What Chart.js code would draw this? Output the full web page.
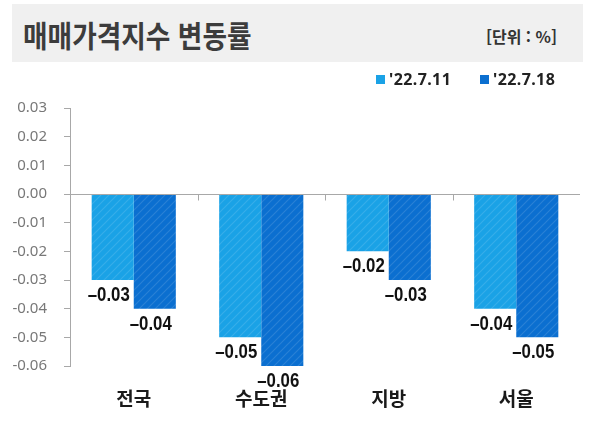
<!DOCTYPE html>
<html lang="ko">
<head>
<meta charset="utf-8">
<script src="https://cdn.jsdelivr.net/npm/chart.js@4.4.1/dist/chart.umd.min.js"></script>
<style>
  html, body { margin: 0; padding: 0; background: #fff; }
  #wrap { position: relative; width: 600px; height: 433px; overflow: hidden; }
  #chart-box { position: absolute; left: 0; top: 0; width: 600px; height: 433px; }
  .title-box {
    position: absolute; left: 12px; top: 4px; width: 571px; height: 58px;
    background: #f0f0f0;
  }
  .title {
    position: absolute; left: 23px; top: 12px;
    font: bold 30px "Noto Sans CJK KR", sans-serif; color: #3c3c3c;
    transform: scaleX(0.89); transform-origin: left center; white-space: nowrap;
    line-height: 44px;
  }
  .unit {
    position: absolute; right: 43px; top: 24px;
    font: bold 16px "Noto Sans CJK KR", sans-serif; color: #333; line-height: 24px;
  }
  #legend { position: absolute; top: 68px; left: 0; width: 600px; height: 22px; }
  .lg-item { position: absolute; top: 0; height: 22px; display: flex; align-items: center; }
  .lg-box { width: 9px; height: 9px; margin-right: 4px; }
  .lg-text { font: bold 16px "Noto Sans", sans-serif; color: #222; letter-spacing: 0.4px; }
</style>
</head>
<body>
<div id="wrap">
  <div class="title-box"></div>
  <div class="title">매매가격지수 변동률</div>
  <div class="unit">[단위 : %]</div>
  <div id="chart-box"><canvas id="c"></canvas></div>
  <div id="legend"></div>
</div>
<script>
// 데이터
const categories = ['전국', '수도권', '지방', '서울']
const week0711 = [-0.03, -0.05, -0.02, -0.04]
const week0718 = [-0.04, -0.06, -0.03, -0.05]
const seriesLabels = ["'22.7.11", "'22.7.18"]
const seriesColors = ['#1aa2e6', '#0b6fd0']
const yMin = -0.06
const yMax = 0.03
const yStep = 0.01

// 막대에 옅은 사선 무늬
function hatch(color) {
  const s = 8
  const c = document.createElement('canvas')
  c.width = s
  c.height = s
  const g = c.getContext('2d')
  g.fillStyle = color
  g.fillRect(0, 0, s, s)
  g.strokeStyle = 'rgba(255,255,255,0.13)'
  g.lineWidth = 1.2
  g.beginPath()
  g.moveTo(0, s); g.lineTo(s, 0)
  g.moveTo(-s / 2, s / 2); g.lineTo(s / 2, -s / 2)
  g.moveTo(s / 2, s + s / 2); g.lineTo(s + s / 2, s / 2)
  g.stroke()
  return g.createPattern(c, 'repeat')
}

function fmt(v) {
  if (Math.abs(v) < 1e-9) return '0.00'
  return v.toFixed(2)
}

// 0 기준선과 구분 눈금
const zeroLine = {
  id: 'zeroLine',
  afterDatasetsDraw(chart) {
    const { ctx, chartArea, scales } = chart
    const y = Math.round(scales.y.getPixelForValue(0)) + 0.5
    ctx.save()
    ctx.strokeStyle = '#a8a8a8'
    ctx.lineWidth = 1
    ctx.beginPath()
    ctx.moveTo(chartArea.left, y)
    ctx.lineTo(chartArea.right, y)
    for (let i = 0; i < categories.length - 1; i++) {
      const x = Math.round((scales.x.getPixelForValue(i) + scales.x.getPixelForValue(i + 1)) / 2) + 0.5
      ctx.moveTo(x, y)
      ctx.lineTo(x, y + 6)
    }
    ctx.stroke()
    ctx.restore()
  }
}

// 값 라벨 (좁은 글꼴 대신 가로로 눌러서 그림)
const valueLabels = {
  id: 'valueLabels',
  afterDatasetsDraw(chart) {
    const { ctx } = chart
    const sx = 0.8
    ctx.save()
    ctx.font = 'bold 21px "Liberation Sans", Arial, sans-serif'
    ctx.fillStyle = '#111'
    ctx.textAlign = 'center'
    ctx.textBaseline = 'alphabetic'
    chart.data.datasets.forEach((ds, di) => {
      chart.getDatasetMeta(di).data.forEach((bar, i) => {
        const txt = fmt(ds.data[i]).replace('-', '–')
        ctx.save()
        ctx.translate(bar.x - 4, bar.y + 21)
        ctx.scale(sx, 1)
        ctx.fillText(txt, 0, 0)
        ctx.restore()
      })
    })
    ctx.restore()
  }
}

const chart = new Chart(document.getElementById('c'), {
  type: 'bar',
  data: {
    labels: categories,
    datasets: [
      { label: seriesLabels[0], data: week0711, backgroundColor: hatch(seriesColors[0]) },
      { label: seriesLabels[1], data: week0718, backgroundColor: hatch(seriesColors[1]) }
    ]
  },
  options: {
    responsive: true,
    maintainAspectRatio: false,
    animation: false,
    layout: { padding: { top: 108, right: 20, left: 0, bottom: 0 } },
    datasets: { bar: { categoryPercentage: 0.66, barPercentage: 1.0, borderWidth: 0 } },
    plugins: {
      legend: { display: false },
      tooltip: { enabled: false }
    },
    scales: {
      x: {
        grid: { display: false, drawTicks: false },
        border: { display: false },
        ticks: {
          padding: 21,
          color: '#1a1a1a',
          font: { family: '"Noto Sans CJK KR", sans-serif', size: 19, weight: 'bold' }
        },
        afterFit(scale) { scale.height = 67 }
      },
      y: {
        min: yMin,
        max: yMax,
        grid: { drawOnChartArea: false, drawTicks: true, tickLength: 6, color: '#a8a8a8' },
        border: { display: true, color: '#a8a8a8' },
        ticks: {
          stepSize: yStep,
          padding: 17,
          color: '#787878',
          font: { family: '"Noto Sans", sans-serif', size: 15 },
          callback: (v) => fmt(v)
        },
        afterFit(scale) { scale.width = 70 }
      }
    }
  },
  plugins: [zeroLine, valueLabels]
})

// 범례
const lgLeft = [376, 480]
const legend = document.getElementById('legend')
seriesLabels.forEach((name, i) => {
  const item = document.createElement('div')
  item.className = 'lg-item'
  item.style.left = lgLeft[i] + 'px'
  const box = document.createElement('span')
  box.className = 'lg-box'
  box.style.background = seriesColors[i]
  const t = document.createElement('span')
  t.className = 'lg-text'
  t.textContent = name
  item.appendChild(box)
  item.appendChild(t)
  legend.appendChild(item)
})
</script>
</body>
</html>
